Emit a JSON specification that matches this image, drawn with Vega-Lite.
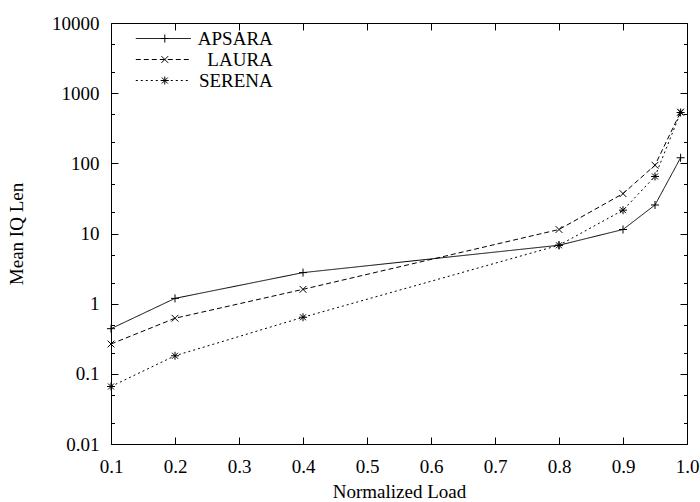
{
  "$schema": "https://vega.github.io/schema/vega-lite/v6.json",
  "width": 576,
  "height": 421,
  "autosize": "none",
  "padding": {"left": 111, "top": 23, "right": 13, "bottom": 58},
  "background": "white",
  "config": {
    "font": "Liberation Serif, Times New Roman, DejaVu Serif, serif",
    "view": {"stroke": "black", "strokeWidth": 1},
    "axis": {"grid": false, "domain": false, "labelFont": "Liberation Serif, Times New Roman, DejaVu Serif, serif", "titleFont": "Liberation Serif, Times New Roman, DejaVu Serif, serif", "labelFontSize": 19, "titleFontSize": 19, "titleFontWeight": "normal", "labelColor": "black", "titleColor": "black", "tickColor": "black", "tickWidth": 1, "labelFlush": false, "labelOverlap": false},
    "legend": {"labelFont": "Liberation Serif, Times New Roman, DejaVu Serif, serif", "labelFontSize": 19, "labelColor": "black"}
  },
  "data": {"values": [
    {"series": "APSARA", "load": 0.1, "len": 0.44},
    {"series": "APSARA", "load": 0.2, "len": 1.19},
    {"series": "APSARA", "load": 0.4, "len": 2.77},
    {"series": "APSARA", "load": 0.8, "len": 6.8},
    {"series": "APSARA", "load": 0.9, "len": 11.4},
    {"series": "APSARA", "load": 0.95, "len": 25.5},
    {"series": "APSARA", "load": 0.99, "len": 120},
    {"series": "LAURA", "load": 0.1, "len": 0.266},
    {"series": "LAURA", "load": 0.2, "len": 0.62},
    {"series": "LAURA", "load": 0.4, "len": 1.6},
    {"series": "LAURA", "load": 0.8, "len": 11.4},
    {"series": "LAURA", "load": 0.9, "len": 37},
    {"series": "LAURA", "load": 0.95, "len": 94},
    {"series": "LAURA", "load": 0.99, "len": 538},
    {"series": "SERENA", "load": 0.1, "len": 0.066},
    {"series": "SERENA", "load": 0.2, "len": 0.181},
    {"series": "SERENA", "load": 0.4, "len": 0.64},
    {"series": "SERENA", "load": 0.8, "len": 6.8},
    {"series": "SERENA", "load": 0.9, "len": 21.5},
    {"series": "SERENA", "load": 0.95, "len": 65},
    {"series": "SERENA", "load": 0.99, "len": 530}
  ]},
  "resolve": {"axis": {"x": "independent", "y": "independent"}},
  "layer": [
    {
      "mark": {"type": "line", "color": "black", "strokeWidth": 1},
      "encoding": {
        "x": {"field": "load", "type": "quantitative",
          "scale": {"domain": [0.1, 1.0], "nice": false, "zero": false},
          "axis": {"orient": "bottom", "values": [0.1,0.2,0.3,0.4,0.5,0.6,0.7,0.8,0.9,1.0], "format": ".1f", "tickSize": -7, "labelPadding": 35, "labelBaseline": "alphabetic", "title": "Normalized Load", "titleY": 53, "titleBaseline": "alphabetic"}},
        "y": {"field": "len", "type": "quantitative",
          "scale": {"type": "log", "domain": [0.01, 10000], "nice": false},
          "axis": {"orient": "left", "values": [0.01,0.1,1,10,100,1000,10000], "format": "~g", "tickSize": -7, "labelPadding": 19, "labelBaseline": "middle", "title": "Mean IQ Len", "titleX": -89, "titleY": 210.5, "titleBaseline": "alphabetic", "titleAngle": 270}},
        "strokeDash": {"field": "series", "type": "nominal",
          "scale": {"domain": ["APSARA", "LAURA", "SERENA"], "range": [[1,0],[5,3],[2,3]]},
          "legend": {"orient": "none", "legendX": 42.8, "legendY": 6, "title": null, "symbolType": "M-5,0L5,0", "symbolSize": 121, "symbolStrokeWidth": 1, "symbolStrokeColor": "black", "labelAlign": "right", "labelOffset": 100, "labelBaseline": "middle", "rowPadding": 1, "padding": 0}}
      }
    },
    {
      "mark": {"type": "point", "filled": false, "color": "black", "strokeWidth": 1, "size": 64, "opacity": 1},
      "encoding": {
        "x": {"field": "load", "type": "quantitative",
          "axis": {"orient": "top", "values": [0.1,0.2,0.3,0.4,0.5,0.6,0.7,0.8,0.9,1.0], "labels": false, "tickSize": -7, "title": null}},
        "y": {"field": "len", "type": "quantitative",
          "axis": {"orient": "right", "values": [0.01,0.1,1,10,100,1000,10000], "labels": false, "tickSize": -7, "title": null}},
        "shape": {"field": "series", "type": "nominal",
          "scale": {"range": ["M-1,0L1,0M0,-1L0,1", "M-0.85,-0.85L0.85,0.85M-0.85,0.85L0.85,-0.85", "M-1,0L1,0M0,-1L0,1M-0.75,-0.75L0.75,0.75M-0.75,0.75L0.75,-0.75"]},
          "legend": {"orient": "none", "legendX": 44.3, "legendY": 6, "title": null, "symbolSize": 64, "symbolStrokeWidth": 1, "symbolStrokeColor": "black", "symbolFillColor": "transparent", "labelExpr": "''", "labelBaseline": "middle", "rowPadding": 1, "padding": 0}}
      }
    },
    {
      "mark": {"type": "point", "opacity": 0},
      "encoding": {
        "x": {"field": "load", "type": "quantitative", "axis": null},
        "y": {"field": "len", "type": "quantitative",
          "axis": {"orient": "left", "values": [0.02,0.05,0.2,0.5,2,5,20,50,200,500,2000,5000], "labels": false, "tickSize": -3.5, "title": null}}
      }
    },
    {
      "mark": {"type": "point", "opacity": 0},
      "encoding": {
        "x": {"field": "load", "type": "quantitative", "axis": null},
        "y": {"field": "len", "type": "quantitative",
          "axis": {"orient": "right", "values": [0.02,0.05,0.2,0.5,2,5,20,50,200,500,2000,5000], "labels": false, "tickSize": -3.5, "title": null}}
      }
    }
  ]
}
